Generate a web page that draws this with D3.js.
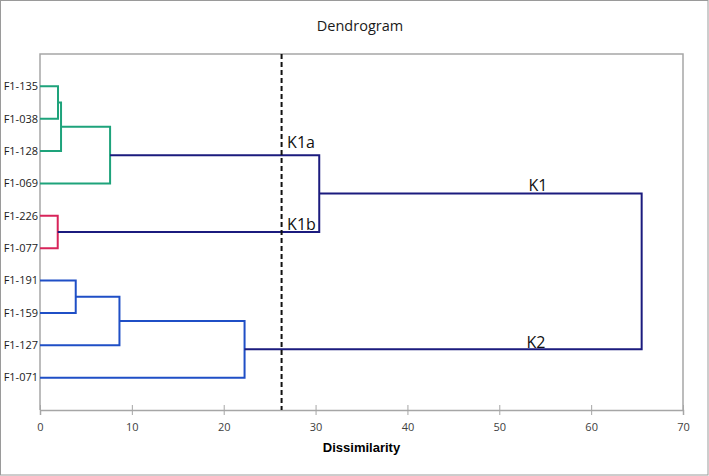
<!DOCTYPE html>
<html>
<head>
<meta charset="utf-8">
<script src="https://cdn.jsdelivr.net/npm/d3@7"></script>
<style>
  body { margin: 0; background: #fff; }
  text { font-family: "Open Sans", "Noto Sans", sans-serif; }
</style>
</head>
<body>
<svg id="chart"></svg>
<script>
// leaves, top to bottom
const leaves = ["F1-135", "F1-038", "F1-128", "F1-069", "F1-226", "F1-077",
                "F1-191", "F1-159", "F1-127", "F1-071"];

// merges: [id, left child, right child, dissimilarity, group]
const merges = [
  ["n1", "F1-135", "F1-038", 1.96, "green"],
  ["n2", "n1", "F1-128", 2.29, "green"],
  ["n3", "n2", "F1-069", 7.63, "green"],
  ["n4", "F1-226", "F1-077", 1.93, "red"],
  ["n5", "F1-191", "F1-159", 3.89, "blue"],
  ["n6", "n5", "F1-127", 8.65, "blue"],
  ["n7", "n6", "F1-071", 22.27, "blue"],
  ["n8", "n3", "n4", 30.4, "top"],
  ["n9", "n8", "n7", 65.5, "top"]
];

const cutLevel = 26.3;

// cluster labels: [text, node it sits on]
const clusterLabels = [["K1a", "n3"], ["K1b", "n4"], ["K1", "n8"], ["K2", "n7"]];

const xTicks = [0, 10, 20, 30, 40, 50, 60, 70];

const groupColor = { green: "#1ea37b", red: "#d8245a", blue: "#1f4fc6", top: "#1b1b7e" };

const W = 709, H = 476;
const margin = { top: 54, right: 26, bottom: 66, left: 40 };

const svg = d3.select("#chart").attr("width", W).attr("height", H);

// outer border
svg.append("rect")
  .attr("x", 0.5).attr("y", 0.5)
  .attr("width", W - 1.5).attr("height", H - 1.5)
  .attr("fill", "none").attr("stroke", "#9a9a9a");

const x = d3.scaleLinear().domain([0, 70]).range([margin.left, W - margin.right]);
const y = d3.scaleLinear().domain([0, leaves.length + 1]).range([margin.top, H - margin.bottom]);

// plot frame
svg.append("path")
  .attr("d", `M${x(0)},${y(11)}V${y(0)}H${x(70)}V${y(11)}`)
  .attr("fill", "none").attr("stroke", "#a6a6a6").attr("stroke-width", 1.5);

// x axis
const xAxis = d3.axisBottom(x).tickValues(xTicks).tickSize(5).tickPadding(8);
const xAxisG = svg.append("g")
  .attr("transform", `translate(0,${y(11)})`)
  .call(xAxis);
xAxisG.select(".domain").attr("stroke", "#a6a6a6").attr("stroke-width", 1.5);
xAxisG.selectAll(".tick line").attr("stroke", "#a6a6a6").attr("y1", -5);
xAxisG.selectAll(".tick text")
  .attr("font-family", "'Open Sans', sans-serif")
  .attr("font-size", 11).attr("fill", "#404040");

svg.append("text")
  .attr("x", (x(0) + x(70)) / 2).attr("y", 452)
  .attr("text-anchor", "middle")
  .style("font-family", "'Liberation Sans', Arial, sans-serif")
  .attr("font-size", 13).attr("font-weight", "bold")
  .text("Dissimilarity");

svg.append("text")
  .attr("x", 360).attr("y", 31)
  .attr("text-anchor", "middle")
  .attr("font-size", 14.5).attr("fill", "#1a1a1a")
  .text("Dendrogram");

// node positions
const pos = {};
leaves.forEach((l, i) => { pos[l] = { h: 0, yv: i + 1 }; });
merges.forEach(([id, a, b, h]) => {
  pos[id] = { h: h, yv: (pos[a].yv + pos[b].yv) / 2 };
});

// leaf labels
svg.append("g").selectAll("text")
  .data(leaves)
  .join("text")
  .attr("x", x(0) - 2)
  .attr("y", d => y(pos[d].yv))
  .attr("dy", "0.35em")
  .attr("text-anchor", "end")
  .attr("font-size", 11).attr("fill", "#1a1a1a")
  .text(d => d);

// links
const links = svg.append("g").attr("fill", "none").attr("stroke-width", 2);
merges.forEach(([id, a, b, h, g]) => {
  const pa = pos[a], pb = pos[b];
  links.append("path")
    .attr("d", `M${x(pa.h)},${y(pa.yv)}H${x(h)}V${y(pb.yv)}H${x(pb.h)}`)
    .attr("stroke", groupColor[g]);
});

// cut line
svg.append("line")
  .attr("x1", x(cutLevel)).attr("x2", x(cutLevel))
  .attr("y1", y(0)).attr("y2", y(11))
  .attr("stroke", "#111").attr("stroke-width", 2)
  .attr("stroke-dasharray", "5,3");

// cluster labels
const labelPos = {
  "K1a": d => [x(26.9), y(pos[d].yv) - 7, "start"],
  "K1b": d => [x(26.9), y(pos[d].yv) - 2, "start"],
  "K1": d => [x(54.2), y(pos[d].yv) - 3, "middle"],
  "K2": d => [x(54.0), y(pos[d].yv) - 1, "middle"]
};
svg.append("g").selectAll("text")
  .data(clusterLabels)
  .join("text")
  .each(function ([t, n]) {
    const [lx, ly, anchor] = labelPos[t](n);
    d3.select(this).attr("x", lx).attr("y", ly).attr("text-anchor", anchor);
  })
  .attr("font-size", 16).attr("fill", "#111")
  .text(d => d[0]);
</script>
</body>
</html>
